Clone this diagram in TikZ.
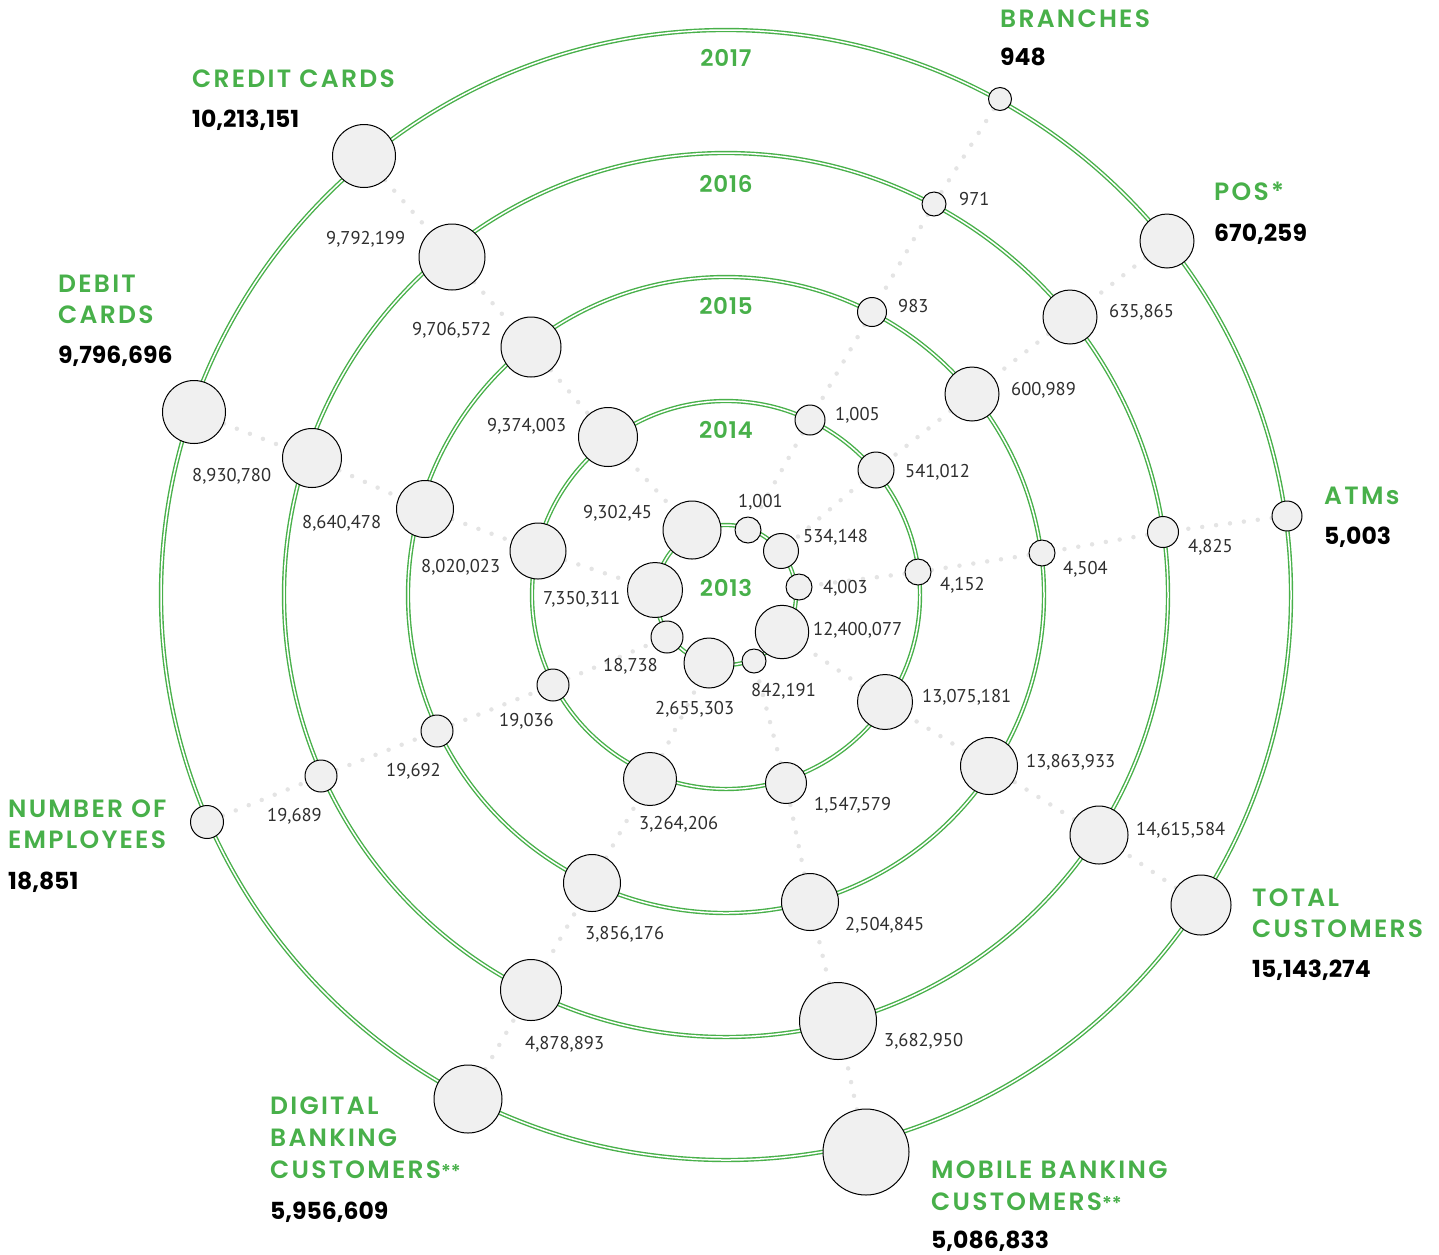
\documentclass[tikz,border=0pt]{standalone}
\usepackage{fontspec}
\setmainfont{PT Sans}
\newfontfamily\labfont{Poppins SemiBold}[LetterSpace=9]
\newfontfamily\yearfont{Poppins SemiBold}[LetterSpace=3]
\newfontfamily\numfont{Poppins}
\definecolor{ringgreen}{RGB}{72,176,74}
\definecolor{bubfill}{RGB}{240,240,240}
\definecolor{dotgray}{RGB}{228,228,228}
\pgfdeclarelayer{background}
\pgfsetlayers{background,main}
\newcommand\mybub[4]{\node[bub={#4}] (#1) at (#2,#3) {};}
\newcommand\smallstars{{\addfontfeature{LetterSpace=0}\fontsize{19}{20}\selectfont**}}
\begin{document}
\begin{tikzpicture}[x=1pt,y=-1pt,
  bub/.style={circle,draw=black,fill=bubfill,line width=1pt,inner sep=0pt,minimum size=#1*2pt},
  ring/.style={draw=ringgreen,line width=1.4pt,double=white,double distance=1.5pt},
  dotline/.style={draw=dotgray,line width=4.5pt,line cap=round,dash pattern=on 0pt off 14pt},
  numlab/.style={anchor=west,inner sep=0pt,font=\fontsize{18.5}{20}\selectfont,text=black!82},
  catlab/.style={anchor=base west,inner sep=0pt,font=\labfont\fontsize{25}{30}\selectfont,text=ringgreen},
  catnum/.style={anchor=base west,inner sep=0pt,font=\numfont\bfseries\fontsize{23.5}{30}\selectfont,text=black},
  yearlab/.style={anchor=center,inner sep=0pt,font=\yearfont\fontsize{23}{25}\selectfont,text=ringgreen}]
\useasboundingbox (0,0) rectangle (1439,1254);
\coordinate (ctr) at (726,595);
% Rings
\foreach \r in {70,194,318,442,565} {\draw[ring] (ctr) circle[radius=\r];}
% Bubbles
% Branches
\mybub{b17}{1000}{99}{11.5}
\mybub{b16}{934}{204}{12}
\mybub{b15}{872}{312}{14.5}
\mybub{b14}{810}{420}{15}
\mybub{b13}{748}{530}{13}
% POS
\mybub{p17}{1167}{241}{27}
\mybub{p16}{1070}{317}{27}
\mybub{p15}{972}{394}{27}
\mybub{p14}{876}{470}{18}
\mybub{p13}{781}{551}{17.5}
% ATMs
\mybub{a17}{1287}{516}{15}
\mybub{a16}{1163}{532}{15.5}
\mybub{a15}{1042}{553}{13}
\mybub{a14}{918}{572}{13}
\mybub{a13}{799}{587}{13}
% Total customers
\mybub{t17}{1201}{905}{30}
\mybub{t16}{1099}{835}{29}
\mybub{t15}{989}{766}{28.5}
\mybub{t14}{885}{702}{27.5}
\mybub{t13}{782}{632}{26.7}
% Mobile banking
\mybub{m17}{866}{1152}{43}
\mybub{m16}{838}{1021}{38.5}
\mybub{m15}{810}{902}{28.5}
\mybub{m14}{786}{783}{20.5}
\mybub{m13}{754}{661}{12}
% Digital banking
\mybub{d17}{468}{1099}{34}
\mybub{d16}{531}{990}{30.5}
\mybub{d15}{592}{883}{28.5}
\mybub{d14}{650}{779}{26.5}
\mybub{d13}{709}{663}{25}
% Employees
\mybub{e17}{207}{822}{16.5}
\mybub{e16}{321}{776}{16}
\mybub{e15}{437}{731}{16}
\mybub{e14}{553}{685}{16}
\mybub{e13}{667}{637}{16}
% Debit cards
\mybub{db17}{194}{412}{31.5}
\mybub{db16}{312}{458}{29.5}
\mybub{db15}{425}{509}{28.5}
\mybub{db14}{538}{551}{28}
\mybub{db13}{655}{590}{27.5}
% Credit cards
\mybub{c17}{364}{156}{31.5}
\mybub{c16}{452}{257}{33}
\mybub{c15}{531}{347}{30}
\mybub{c14}{608}{437}{29.5}
\mybub{c13}{692}{530}{29}
% dotted connectors
\begin{pgfonlayer}{background}
\foreach \p in {b,p,a,t,m,d,e,db,c} {
  \draw[dotline] (\p17) -- (\p16);
  \draw[dotline] (\p16) -- (\p15);
  \draw[dotline] (\p15) -- (\p14);
  \draw[dotline] (\p14) -- (\p13);
}
\end{pgfonlayer}
% year labels
\node[yearlab] (y17) at (726,58) {2017};
\node[yearlab] (y16) at (726,184) {2016};
\node[yearlab] (y15) at (726,306) {2015};
\node[yearlab] (y14) at (726,430) {2014};
\node[yearlab] (y13) at (726,588) {2013};
% value labels
\node[numlab] (lc16) at (326,239) {9,792,199};
\node[numlab] (lc15) at (412,330) {9,706,572};
\node[numlab] (lc14) at (487,426) {9,374,003};
\node[numlab] (lc13) at (583,513) {9,302,45};
\node[numlab] (ld16) at (192,476) {8,930,780};
\node[numlab] (ld15) at (302,523) {8,640,478};
\node[numlab] (ld14) at (421,567) {8,020,023};
\node[numlab] (ld13) at (543,599) {7,350,311};
\node[numlab] (le16) at (267,816) {19,689};
\node[numlab] (le15) at (386,771) {19,692};
\node[numlab] (le14) at (499,721) {19,036};
\node[numlab] (le13) at (603,666) {18,738};
\node[numlab] (lb16) at (959,199) {971};
\node[numlab] (lb15) at (898,306) {983};
\node[numlab] (lb14) at (835,415) {1,005};
\node[numlab] (lb13) at (738,502) {1,001};
\node[numlab] (lp16) at (1109,312) {635,865};
\node[numlab] (lp15) at (1011,390) {600,989};
\node[numlab] (lp14) at (905,472) {541,012};
\node[numlab] (lp13) at (803,537) {534,148};
\node[numlab] (la16) at (1188,547) {4,825};
\node[numlab] (la15) at (1063,569) {4,504};
\node[numlab] (la14) at (940,585) {4,152};
\node[numlab] (la13) at (823,588) {4,003};
\node[numlab] (lt16) at (1136,830) {14,615,584};
\node[numlab] (lt15) at (1026,762) {13,863,933};
\node[numlab] (lt14) at (922,697) {13,075,181};
\node[numlab] (lt13) at (813,630) {12,400,077};
\node[numlab] (lm16) at (884,1041) {3,682,950};
\node[numlab] (lm15) at (845,925) {2,504,845};
\node[numlab] (lm14) at (814,805) {1,547,579};
\node[numlab] (lm13) at (751,691) {842,191};
\node[numlab] (lg16) at (525,1044) {4,878,893};
\node[numlab] (lg15) at (585,934) {3,856,176};
\node[numlab] (lg14) at (639,824) {3,264,206};
\node[numlab] (lg13) at (655,709) {2,655,303};
% category labels
\node[catlab] (hb) at (1000,27) {BRANCHES};
\node[catnum] (nb) at (1000,65) {948};
\node[catlab] (hc) at (192,87) {CREDIT CARDS};
\node[catnum] (nc) at (192,127) {10,213,151};
\node[catlab] (hp) at (1214,200) {POS*};
\node[catnum] (np) at (1214,241) {670,259};
\node[catlab] (hd1) at (58,292) {DEBIT};
\node[catlab] (hd2) at (58,323) {CARDS};
\node[catnum] (nd) at (58,363) {9,796,696};
\node[catlab] (ha) at (1324,504) {ATMs};
\node[catnum] (na) at (1324,544) {5,003};
\node[catlab] (he1) at (8,817) {NUMBER OF};
\node[catlab] (he2) at (8,848) {EMPLOYEES};
\node[catnum] (ne) at (8,889) {18,851};
\node[catlab] (ht1) at (1252,906) {TOTAL};
\node[catlab] (ht2) at (1252,937) {CUSTOMERS};
\node[catnum] (nt) at (1252,977) {15,143,274};
\node[catlab] (hm1) at (931,1178) {MOBILE BANKING};
\node[catlab] (hm2) at (931,1210) {CUSTOMERS\smallstars};
\node[catnum] (nm) at (931,1248) {5,086,833};
\node[catlab] (hg1) at (270,1114) {DIGITAL};
\node[catlab] (hg2) at (270,1146) {BANKING};
\node[catlab] (hg3) at (270,1178) {CUSTOMERS\smallstars};
\node[catnum] (ng) at (270,1219) {5,956,609};
\end{tikzpicture}
\end{document}
